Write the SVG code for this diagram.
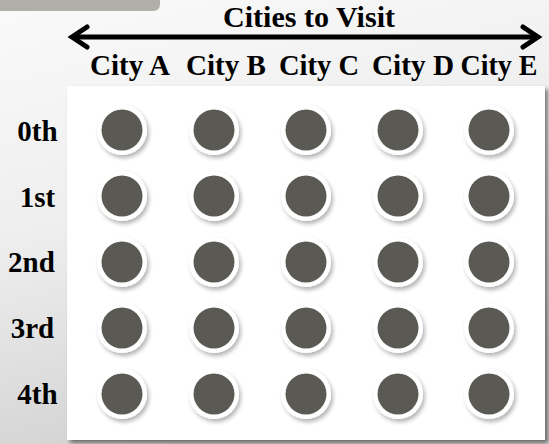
<svg xmlns="http://www.w3.org/2000/svg" width="549" height="444" viewBox="0 0 549 444">
<defs>
<linearGradient id="bg" x1="0" y1="0" x2="0.3" y2="1">
<stop offset="0" stop-color="#fafafa"/>
<stop offset="0.5" stop-color="#eeeeee"/>
<stop offset="1" stop-color="#d2d2d2"/>
</linearGradient>
<filter id="sh" x="-30%" y="-30%" width="170%" height="170%">
<feGaussianBlur in="SourceAlpha" stdDeviation="2"/>
<feOffset dx="2" dy="3" result="b"/>
<feComponentTransfer><feFuncA type="linear" slope="0.3"/></feComponentTransfer>
<feMerge><feMergeNode/><feMergeNode in="SourceGraphic"/></feMerge>
</filter>
<filter id="psh" x="-5%" y="-5%" width="110%" height="110%">
<feGaussianBlur in="SourceAlpha" stdDeviation="2"/>
<feOffset dx="3" dy="3"/>
<feComponentTransfer><feFuncA type="linear" slope="0.5"/></feComponentTransfer>
<feMerge><feMergeNode/><feMergeNode in="SourceGraphic"/></feMerge>
</filter>
<g id="dot">
<circle r="25" fill="#ffffff" filter="url(#sh)"/>
<circle r="20.5" fill="#5a5953"/>
</g>
</defs>
<style>
text{font-family:"Liberation Serif","Times New Roman",serif;font-weight:bold;fill:#000}
.hd{font-size:29px}
.col{font-size:29px;text-anchor:middle}
.row{font-size:29px;text-anchor:middle}
</style>
<rect width="549" height="444" fill="url(#bg)"/>
<path d="M0 0H160V4Q160 11 153 11H0Z" fill="#b0b0a9"/>
<rect x="67" y="86" width="478" height="354" fill="#ffffff" filter="url(#psh)"/>
<g id="connectors">
<line x1="72" y1="37" x2="538" y2="37" stroke="#000" stroke-width="5"/>
<polyline points="87,27 72,37 87,47" fill="none" stroke="#000" stroke-width="5" stroke-linecap="round"/>
<polyline points="523,27 538,37 523,47" fill="none" stroke="#000" stroke-width="5" stroke-linecap="round"/>
</g>
<g id="header"><text class="hd" x="309" y="27" text-anchor="middle" textLength="172" lengthAdjust="spacingAndGlyphs">Cities to Visit</text></g>
<g id="cols">
<text class="col" x="130" y="75" textLength="80" lengthAdjust="spacingAndGlyphs">City A</text>
<text class="col" x="226" y="75" textLength="80" lengthAdjust="spacingAndGlyphs">City B</text>
<text class="col" x="319" y="75" textLength="80" lengthAdjust="spacingAndGlyphs">City C</text>
<text class="col" x="413" y="75" textLength="82" lengthAdjust="spacingAndGlyphs">City D</text>
<text class="col" x="499" y="75" textLength="77" lengthAdjust="spacingAndGlyphs">City E</text>
</g>
<g id="rows">
<text class="row" x="37.5" y="141">0th</text>
<text class="row" x="37.5" y="207">1st</text>
<text class="row" x="31.5" y="272">2nd</text>
<text class="row" x="32.5" y="338">3rd</text>
<text class="row" x="37.5" y="404">4th</text>
</g>
<g id="grid">
<use href="#dot" x="122" y="130"/><use href="#dot" x="214" y="130"/><use href="#dot" x="306" y="130"/><use href="#dot" x="398" y="130"/><use href="#dot" x="489" y="130"/>
<use href="#dot" x="122" y="196"/><use href="#dot" x="214" y="196"/><use href="#dot" x="306" y="196"/><use href="#dot" x="398" y="196"/><use href="#dot" x="489" y="196"/>
<use href="#dot" x="122" y="262"/><use href="#dot" x="214" y="262"/><use href="#dot" x="306" y="262"/><use href="#dot" x="398" y="262"/><use href="#dot" x="489" y="262"/>
<use href="#dot" x="122" y="328"/><use href="#dot" x="214" y="328"/><use href="#dot" x="306" y="328"/><use href="#dot" x="398" y="328"/><use href="#dot" x="489" y="328"/>
<use href="#dot" x="122" y="394"/><use href="#dot" x="214" y="394"/><use href="#dot" x="306" y="394"/><use href="#dot" x="398" y="394"/><use href="#dot" x="489" y="394"/>
</g>
</svg>
